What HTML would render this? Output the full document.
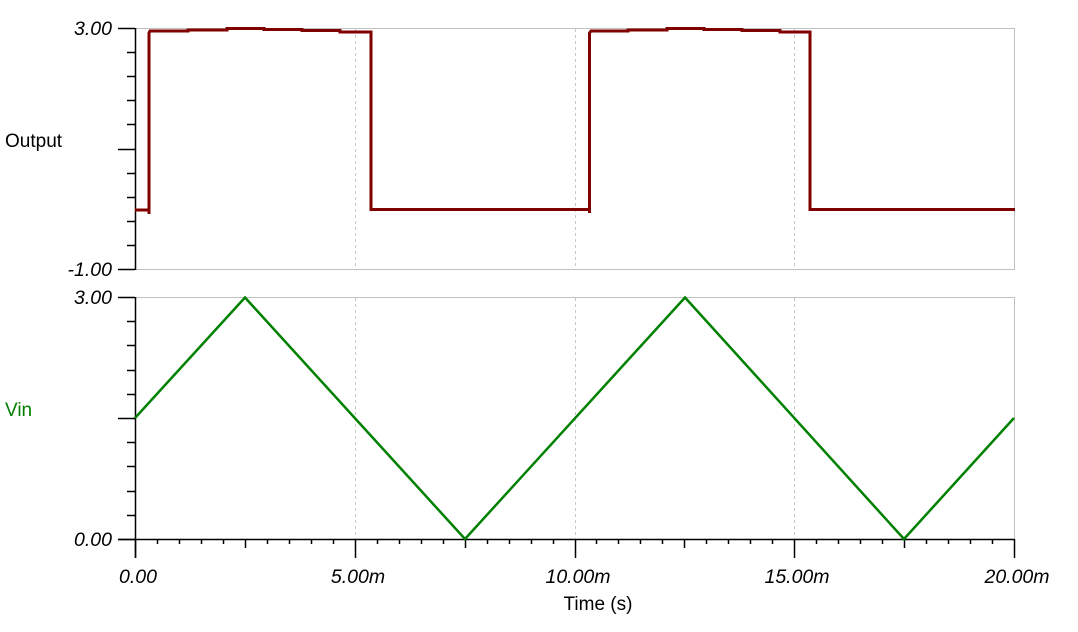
<!DOCTYPE html>
<html><head><style>
body{margin:0;background:#fff;}
svg{display:block;font-family:"Liberation Sans",sans-serif;}
.tl{font-size:19.5px;font-style:italic;fill:#000;}
</style></head><body>
<svg id="s" width="1078" height="632" xmlns="http://www.w3.org/2000/svg">
<rect x="0" y="0" width="1078" height="632" fill="#fff"/>
<path d="M135 28.5H1014.5V269.5H135" fill="none" stroke="#c0c0c0" stroke-width="1"/>
<path d="M135 297.5H1014.5V539" fill="none" stroke="#c0c0c0" stroke-width="1"/>
<g stroke="#c8c8c8" stroke-dasharray="3,3" stroke-width="1">
<line x1="355.5" y1="29" x2="355.5" y2="269"/><line x1="575.5" y1="29" x2="575.5" y2="269"/><line x1="794.5" y1="29" x2="794.5" y2="269"/>
<line x1="355.5" y1="298" x2="355.5" y2="539"/><line x1="575.5" y1="298" x2="575.5" y2="539"/><line x1="794.5" y1="298" x2="794.5" y2="539"/>
</g>
<g id="ax" stroke="#000" stroke-width="1.5" fill="none">
<line x1="135.5" y1="28" x2="135.5" y2="270"/>
<line x1="135.5" y1="297" x2="135.5" y2="558"/>
<line x1="118" y1="539.5" x2="1014" y2="539.5"/>
</g>
<text class="tl" x="112" y="35" text-anchor="end">3.00</text>
<text class="tl" x="112" y="276" text-anchor="end">-1.00</text>
<text class="tl" x="112" y="304" text-anchor="end">3.00</text>
<text class="tl" x="112" y="546" text-anchor="end">0.00</text>
<text class="tl" x="138" y="583" text-anchor="middle">0.00</text>
<text class="tl" x="358" y="583" text-anchor="middle">5.00m</text>
<text class="tl" x="578" y="583" text-anchor="middle">10.00m</text>
<text class="tl" x="797" y="583" text-anchor="middle">15.00m</text>
<text class="tl" x="1017" y="583" text-anchor="middle">20.00m</text>
<text x="5" y="147" font-size="19" fill="#000">Output</text>
<text x="5" y="416" font-size="19" fill="#008000">Vin</text>
<text x="598" y="610" font-size="19" fill="#000" text-anchor="middle">Time (s)</text>
<polyline fill="none" stroke="#800000" stroke-width="3" stroke-linejoin="miter" points="135,210 149,210 149,214 149,33 150,31 188,31 188,30 227,30 227,28.5 264,28.5 264,29.5 302,29.5 302,30.5 340,30.5 340,32 371,32 371,209.5 589.5,209.5 589.5,213 589.5,33 591,31 628,31 628,30 667,30 667,28.5 704,28.5 704,29.5 742,29.5 742,30.5 780,30.5 780,32 810,32 810,209.5 1015,209.5"/>
<polyline fill="none" stroke="#008000" stroke-width="2.5" points="135,418 245,297.5 465,539 685,297.5 904,539 1014,418"/>
</svg>
<script>
var ax=document.getElementById('ax'),ns='http://www.w3.org/2000/svg';
function L(x1,y1,x2,y2){var l=document.createElementNS(ns,'line');l.setAttribute('x1',x1);l.setAttribute('y1',y1);l.setAttribute('x2',x2);l.setAttribute('y2',y2);ax.appendChild(l);}
for(var k=0;k<=10;k++){var y=Math.round(28+k*24.1)+0.5;L(k%5==0?118:127,y,135,y);}
for(var k=0;k<=10;k++){var y=Math.round(297+k*24.2)+0.5;L(k%5==0?118:127,y,135,y);}
for(var k=0;k<=40;k++){var x=Math.round(135+k*21.975)+0.5;var e=k%10==0?558:(k%5==0?548:544);L(x,539,x,e);}
</script>
</body></html>
